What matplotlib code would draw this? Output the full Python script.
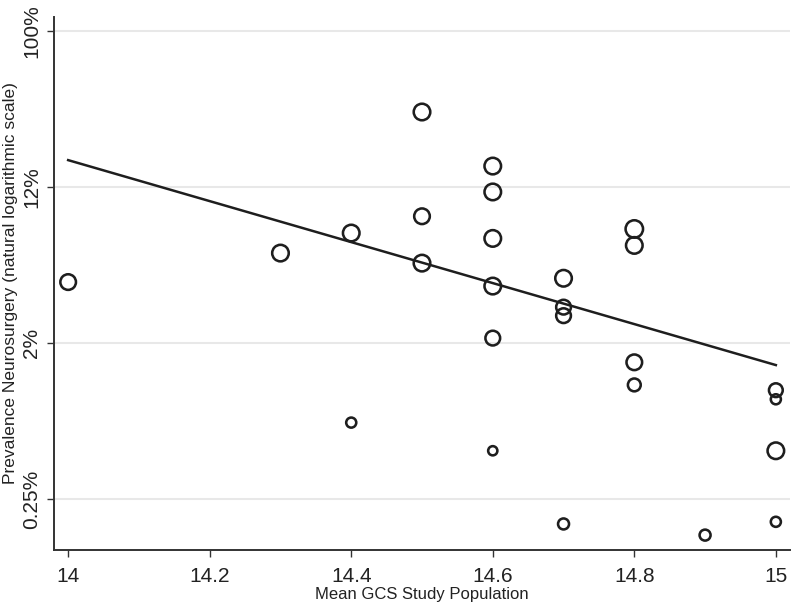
import numpy as np
import matplotlib
matplotlib.use("Agg")
import matplotlib.pyplot as plt
from matplotlib.ticker import FixedLocator, NullLocator

# --- data ---
gcs = [14.0, 14.3, 14.4, 14.4, 14.5, 14.5, 14.5, 14.6, 14.6, 14.6, 14.6, 14.6, 14.6,
       14.7, 14.7, 14.7, 14.7, 14.8, 14.8, 14.8, 14.8, 14.9, 15.0, 15.0, 15.0, 15.0]
prevalence_pct = [4.0, 5.8, 7.5, 0.66, 35.4, 9.3, 5.1, 17.7, 12.7, 7.0, 3.8, 1.95, 0.46,
                  4.2, 2.9, 2.6, 0.18, 7.9, 6.4, 1.43, 1.07, 0.156, 1.0, 0.89, 0.46, 0.185]
weight = [89, 100, 100, 37, 100, 89, 100, 100, 100, 100, 100, 79, 31,
          100, 79, 79, 44, 111, 100, 89, 60, 44, 69, 37, 100, 37]
fit_gcs = [14.0, 15.0]
fit_pct = [19.1, 1.38]
ytick_vals_pct = [100 * np.exp(-6), 100 * np.exp(-4), 100 * np.exp(-2), 100.0]
ytick_labels = ["0.25%", "2%", "12%", "100%"]
xticks = [14, 14.2, 14.4, 14.6, 14.8, 15]
xtick_labels = ["14", "14.2", "14.4", "14.6", "14.8", "15"]

plt.rcParams['font.family'] = ['Liberation Sans', 'DejaVu Sans']

fig = plt.figure(figsize=(7.92, 6.06), dpi=100)
ax = fig.add_axes([54 / 792, 1 - 550 / 606, (790 - 54) / 792, (550 - 17) / 606])

dark = "#1e1e1e"
# marker size scale: weight 100 -> ~16px path diameter
sizes = [w * 1.42 for w in weight]
ax.scatter(gcs, prevalence_pct, s=sizes, facecolors="none", edgecolors=dark,
           linewidths=1.85, zorder=3)
ax.plot(fit_gcs, fit_pct, color=dark, lw=1.8, zorder=4)

ax.set_yscale("log")
ax.set_xlim(13.980, 15.020)
ax.set_ylim(100 * np.exp(-6.654), 100 * np.exp(0.1795))

ax.yaxis.set_major_locator(FixedLocator(ytick_vals_pct))
ax.yaxis.set_minor_locator(NullLocator())
ax.set_yticklabels(ytick_labels, rotation=90, va="center", fontsize=15)
ax.set_xticks(xticks)
ax.set_xticklabels(xtick_labels, fontsize=15)

ax.grid(axis="y", color="#e8e8e8", lw=1.5, zorder=0)
ax.set_axisbelow(True)

for side in ["top", "right"]:
    ax.spines[side].set_visible(False)
for side in ["left", "bottom"]:
    ax.spines[side].set_color("#333333")
    ax.spines[side].set_linewidth(1.4)

ax.tick_params(axis="both", direction="out", length=5, width=1, color="#333333",
               labelcolor="#222222")
ax.tick_params(axis="x", pad=7)
ax.tick_params(axis="y", pad=4)

ax.set_xlabel("Mean GCS Study Population", fontsize=12, color="#222222", labelpad=1)
ax.set_ylabel("Prevalence Neurosurgery (natural logarithmic scale)", fontsize=12.5,
              color="#222222", labelpad=3)

fig.savefig("out.png", dpi=100)
